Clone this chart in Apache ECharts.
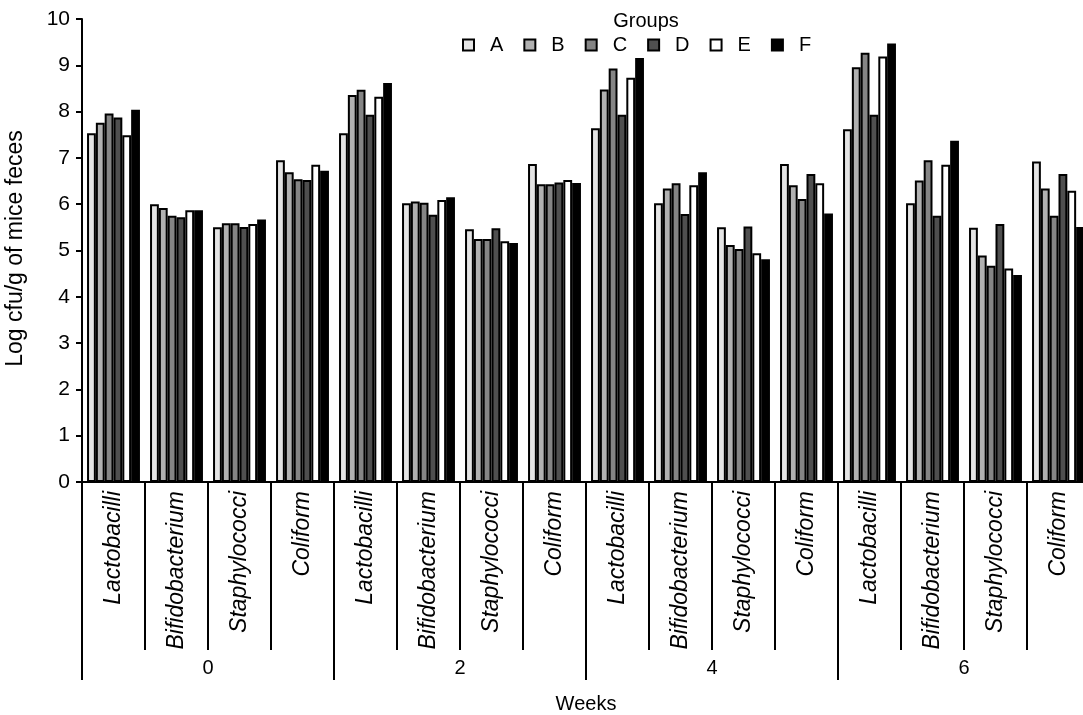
<!DOCTYPE html>
<html>
<head>
<meta charset="utf-8">
<title>Fecal bacteria counts by group</title>
<script src="https://cdn.jsdelivr.net/npm/echarts@6/dist/echarts.min.js"></script>
<style>
  html, body { margin: 0; padding: 0; background: #ffffff; }
  #chart { width: 1083px; height: 715px; }
</style>
</head>
<body>
<div id="chart"></div>
<script>
// Bacteria groups measured at each sampling week
const bacteria = ['Lactobacilli', 'Bifidobacterium', 'Staphylococci', 'Coliform'];
const weeks = ['0', '2', '4', '6'];
const categories = weeks.flatMap(() => bacteria);
const groupNames = ['A', 'B', 'C', 'D', 'E', 'F'];
const yTicks = [0, 1, 2, 3, 4, 5, 6, 7, 8, 9, 10];

// Log cfu/g per group, ordered week 0..6, each week Lactobacilli, Bifidobacterium, Staphylococci, Coliform
const groupA = [7.53, 6.00, 5.50, 6.95, 7.53, 6.02, 5.46, 6.87, 7.64, 6.02, 5.50, 6.87, 7.62, 6.02, 5.49, 6.92];
const groupB = [7.76, 5.92, 5.59, 6.69, 8.36, 6.06, 5.25, 6.43, 8.48, 6.34, 5.12, 6.41, 8.96, 6.51, 4.89, 6.34];
const groupC = [7.96, 5.75, 5.59, 6.54, 8.47, 6.03, 5.25, 6.43, 8.93, 6.45, 5.03, 6.11, 9.27, 6.95, 4.67, 5.75];
const groupD = [7.87, 5.72, 5.51, 6.52, 7.93, 5.77, 5.48, 6.47, 7.93, 5.79, 5.52, 6.65, 7.93, 5.75, 5.57, 6.65];
const groupE = [7.49, 5.87, 5.57, 6.85, 8.32, 6.09, 5.20, 6.52, 8.73, 6.41, 4.94, 6.45, 9.19, 6.85, 4.61, 6.29];
const groupF = [8.04, 5.87, 5.67, 6.72, 8.62, 6.15, 5.16, 6.46, 9.16, 6.69, 4.81, 5.80, 9.47, 7.37, 4.47, 5.51];

const groupValues = [groupA, groupB, groupC, groupD, groupE, groupF];
const fills = ['#e4e4e4', '#b1b1b1', '#858585', '#4f4f4f', '#ffffff', '#000000'];
const FONT = '"Liberation Sans", Arial, Helvetica, sans-serif';

const chart = echarts.init(document.getElementById('chart'), null, { renderer: 'canvas' });

const series = groupNames.map((name, i) => ({
  name: name,
  type: 'bar',
  xAxisIndex: 0,
  yAxisIndex: 0,
  data: groupValues[i],
  barGap: '0%',
  barCategoryGap: '16%',
  itemStyle: { color: fills[i], borderColor: '#000000', borderWidth: 2 },
  emphasis: { disabled: true },
  animation: false
}));

chart.setOption({
  animation: false,
  backgroundColor: '#ffffff',
  textStyle: { fontFamily: FONT, color: '#000000' },
  title: {
    text: 'Groups',
    left: 641,
    top: 6,
    textAlign: 'center',
    textStyle: { fontFamily: FONT, fontSize: 20, fontWeight: 'normal', color: '#000000' }
  },
  legend: {
    data: groupNames,
    left: 457,
    top: 30,
    orient: 'horizontal',
    icon: 'rect',
    itemWidth: 11,
    itemHeight: 11,
    itemGap: 20,
    selectedMode: false,
    itemStyle: { borderColor: '#000000', borderWidth: 2 },
    textStyle: { fontFamily: FONT, fontSize: 20, color: '#000000', padding: [0, 0, 0, 11] }
  },
  grid: {
    left: 82,
    right: -7,
    top: 19,
    bottom: 233,
    containLabel: false,
    outerBoundsMode: 'none'
  },
  xAxis: [
    {
      type: 'category',
      gridIndex: 0,
      position: 'bottom',
      data: categories,
      boundaryGap: true,
      axisLine: { show: true, lineStyle: { color: '#000000', width: 2 } },
      axisTick: { show: true, interval: 0, length: 168, lineStyle: { color: '#000000', width: 2 } },
      axisLabel: {
        interval: 0,
        rotate: 90,
        margin: 9,
        fontFamily: FONT,
        fontStyle: 'italic',
        fontSize: 23,
        color: '#000000'
      },
      splitLine: { show: false }
    },
    {
      type: 'category',
      gridIndex: 0,
      position: 'bottom',
      data: weeks,
      boundaryGap: true,
      axisLine: { show: false },
      axisTick: { show: true, interval: 0, length: 198, lineStyle: { color: '#000000', width: 2 } },
      axisLabel: { interval: 0, margin: 176, fontFamily: FONT, fontSize: 20, color: '#000000' },
      name: 'Weeks',
      nameLocation: 'middle',
      nameGap: 212,
      nameTextStyle: { fontFamily: FONT, fontSize: 20, color: '#000000' },
      splitLine: { show: false }
    }
  ],
  yAxis: {
    type: 'value',
    min: yTicks[0],
    max: yTicks[yTicks.length - 1],
    interval: 1,
    name: 'Log cfu/g of mice feces',
    nameLocation: 'middle',
    nameGap: 55,
    nameTextStyle: { fontFamily: FONT, fontSize: 23, color: '#000000', padding: [0, 0, 0, 4] },
    axisLine: { show: true, lineStyle: { color: '#000000', width: 2 } },
    axisTick: { show: true, length: 6, lineStyle: { color: '#000000', width: 2 } },
    axisLabel: { margin: 12, fontFamily: FONT, fontSize: 21, color: '#000000' },
    splitLine: { show: false }
  },
  series: series
});
</script>
</body>
</html>
